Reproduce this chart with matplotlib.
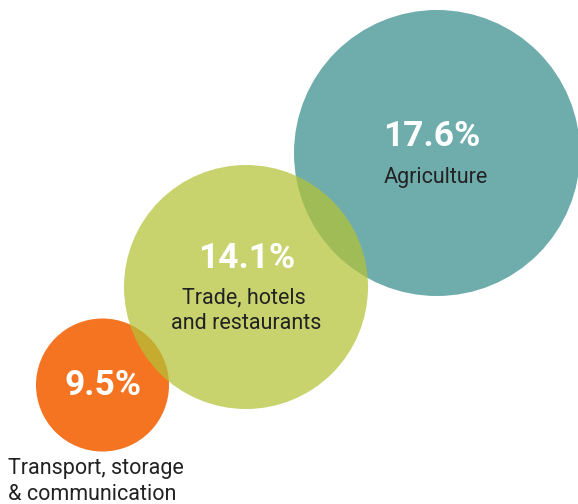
import matplotlib
matplotlib.use("Agg")
import matplotlib.pyplot as plt
from matplotlib.patches import Circle

# Data
categories = ["Transport, storage\n& communication", "Trade, hotels\nand restaurants", "Agriculture"]
values = [9.5, 14.1, 17.6]
value_labels = [f"{v}%" for v in values]

# Layout (pixel coordinates, y down)
centers = [(102.5, 385), (246, 287), (437, 153)]
radii = [66.5, 122, 143]
colors = ["#F47421", "#B3C236", "#6FADAD"]
alphas = [1.0, 0.72, 1.0]
zorders = [1, 3, 2]

W, H = 578, 504
fig = plt.figure(figsize=(W / 100, H / 100), dpi=100)
ax = fig.add_axes([0, 0, 1, 1])
ax.set_xlim(0, W)
ax.set_ylim(H, 0)
ax.set_aspect("equal")
ax.axis("off")

for (cx, cy), r, c, a, z in zip(centers, radii, colors, alphas, zorders):
    ax.add_patch(Circle((cx, cy), r, facecolor=c, alpha=a, edgecolor="none", zorder=z))

font = "Roboto"
pct_kw = dict(color="white", fontsize=25.5, fontweight="bold", family=font,
              ha="center", va="baseline", zorder=5)
lab_kw = dict(color="#222222", fontsize=15.5, fontweight="normal", family=font,
              va="baseline", zorder=5)

# Agriculture
ax.text(432, 146, value_labels[2], **pct_kw)
ax.text(436, 183, categories[2], ha="center", **lab_kw)

# Trade
ax.text(247, 268, value_labels[1], **pct_kw)
l1, l2 = categories[1].split("\n")
ax.text(244, 303, l1, ha="center", **lab_kw)
ax.text(246.5, 329, l2, ha="center", **lab_kw)

# Transport
ax.text(103, 395, value_labels[0], **pct_kw)
t1, t2 = categories[0].split("\n")
ax.text(8, 474, t1, ha="left", **lab_kw)
ax.text(8, 500, t2, ha="left", **lab_kw)

fig.savefig("out.png", dpi=100)
